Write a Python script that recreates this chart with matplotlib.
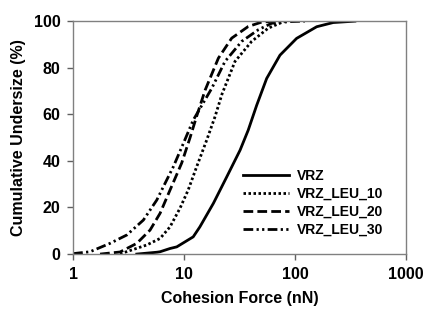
import matplotlib
matplotlib.use('Agg')
import matplotlib.pyplot as plt

plt.rcParams['font.family'] = ['Liberation Sans', 'DejaVu Sans']
plt.rcParams['font.weight'] = 'bold'

# valores (forca em nN, % acumulado)
vrz_x = [3.75, 5.7, 6.08, 7.48, 8.6, 12.1, 13.9, 18.4, 24.3, 32.0, 37.9, 45.2, 55.6, 73.3, 103.5, 157, 221, 347]
vrz_y = [0, 0.8, 1.0, 2.4, 3.1, 7.4, 11.7, 21.8, 33.2, 44.6, 53.2, 63.9, 75.4, 85.4, 92.6, 97.6, 99.4, 100]

leu10_x = [2.65, 4.61, 6.08, 7.48, 9.2, 10.9, 13.0, 16.0, 19.0, 22.0, 28.8, 40.7, 57.5, 81]
leu10_y = [0.1, 3.9, 6.7, 11.7, 19.7, 27.5, 37.5, 48.9, 58.9, 68.7, 82.7, 91.3, 97.0, 100]

leu20_x = [1.75, 2.65, 3.75, 4.94, 6.08, 7.48, 9.53, 11.3, 13.1, 15.5, 20.4, 26.9, 37.9, 50.1, 66]
leu20_y = [0, 0.9, 4.6, 10.3, 17.5, 27.5, 39.1, 49.8, 59.7, 70.4, 84.1, 92.7, 97.7, 99.6, 100]

leu30_x = [1.0, 1.42, 2.15, 3.05, 4.30, 5.68, 6.98, 8.01, 9.86, 12.1, 17.8, 23.4, 33.1, 46.7, 61.7, 90, 123]
leu30_y = [0.2, 1.0, 4.6, 8.2, 14.6, 23.2, 31.8, 37.5, 47.5, 57.5, 71.2, 82.7, 91.3, 96.3, 99.1, 99.8, 100]

fig = plt.figure(figsize=(4.25, 3.11), dpi=100)
ax = fig.add_axes([0.172, 0.183, 0.783, 0.749])

ax.plot(vrz_x, vrz_y, color='black', lw=2.0, ls='-', label='VRZ')
ax.plot(leu10_x, leu10_y, color='black', lw=2.0, ls=(0, (0.9, 0.9)), label='VRZ_LEU_10')
ax.plot(leu20_x, leu20_y, color='black', lw=2.0, ls=(0, (3.5, 1.5)), label='VRZ_LEU_20')
ax.plot(leu30_x, leu30_y, color='black', lw=2.0, ls=(0, (3.5, 1.2, 0.8, 1.2, 0.8, 1.2)), label='VRZ_LEU_30')

ax.set_xscale('log')
ax.set_xlim(1, 1000)
ax.set_ylim(0, 100)
ax.set_xticks([1, 10, 100, 1000])
ax.set_xticklabels(['1', '10', '100', '1000'])
ax.set_yticks([0, 20, 40, 60, 80, 100])
ax.minorticks_off()

for s in ax.spines.values():
    s.set_color('#808080')
    s.set_linewidth(1.0)
ax.tick_params(direction='out', length=4, width=1, color='#606060', labelsize=11.5, pad=5)

ax.set_xlabel('Cohesion Force (nN)', fontsize=11.5, fontweight='bold', labelpad=7)
ax.set_ylabel('Cumulative Undersize (%)', fontsize=11.5, fontweight='bold', labelpad=6)

ax.legend(loc='lower right', frameon=False, fontsize=10, handlelength=3.3,
          handletextpad=0.6, labelspacing=0.28, bbox_to_anchor=(0.97, 0.02))

fig.savefig('out.png', dpi=100)
